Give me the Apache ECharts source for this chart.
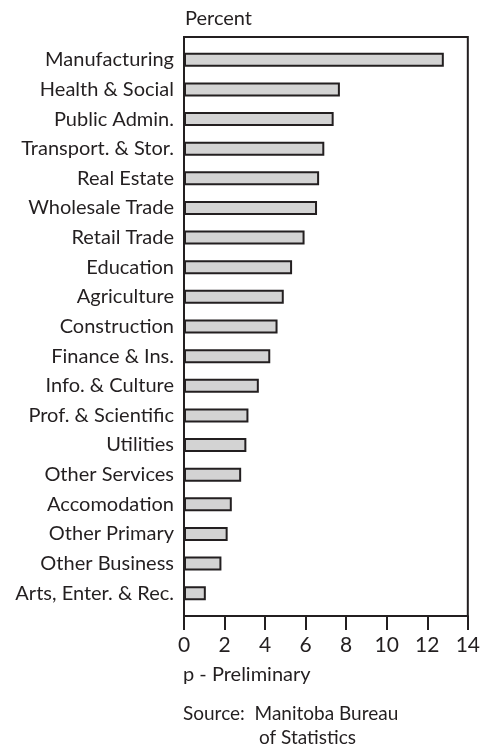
<!DOCTYPE html>
<html lang="en">
<head>
    <meta charset="UTF-8">
    <title>Industries - Percent</title>
    <script src="https://cdn.jsdelivr.net/npm/echarts@6.0.0/dist/echarts.min.js"></script>
    <style>
        html, body { margin: 0; padding: 0; background: #fff; }
        #main { width: 483px; height: 748px; }
    </style>
</head>
<body>
    <div id="main"></div>
    <script type="text/javascript">
        // categories, top to bottom
        const categories = ['Manufacturing', 'Health & Social', 'Public Admin.', 'Transport. & Stor.',
            'Real Estate', 'Wholesale Trade', 'Retail Trade', 'Education', 'Agriculture',
            'Construction', 'Finance & Ins.', 'Info. & Culture', 'Prof. & Scientific',
            'Utilities', 'Other Services', 'Accomodation', 'Other Primary', 'Other Business',
            'Arts, Enter. & Rec.'];
        // percent values
        const percents = [12.5, 7.5, 7.2, 6.75, 6.5, 6.4, 5.8, 5.2, 4.8, 4.5,
            4.15, 3.6, 3.1, 3.0, 2.75, 2.3, 2.1, 1.8, 1.05];
        const xTicks = { min: 0, max: 14, step: 2 };

        const ink = '#231f20';
        const font = 'Lato';

        var chart = echarts.init(document.getElementById('main'));
        var option = {
            animation: false,
            textStyle: { fontFamily: font, color: ink },
            grid: [
                // frame box with the x axis
                { left: 184, right: 8, top: 37, bottom: 132, show: true, borderColor: ink, borderWidth: 2 },
                // bars
                { left: 184, right: 8, top: 45, bottom: 140 }
            ],
            xAxis: [
                {
                    gridIndex: 0, type: 'value', min: xTicks.min, max: xTicks.max, interval: xTicks.step,
                    axisLine: { show: true, lineStyle: { color: ink, width: 2 } },
                    axisTick: { show: true, length: 14, lineStyle: { color: ink, width: 2 } },
                    splitLine: { show: false },
                    axisLabel: { fontSize: 21, color: ink, fontFamily: font, margin: 19 }
                },
                { gridIndex: 1, type: 'value', min: xTicks.min, max: xTicks.max, show: false }
            ],
            yAxis: [
                { gridIndex: 0, type: 'value', show: false },
                {
                    gridIndex: 1, type: 'category', inverse: true, data: categories,
                    axisLine: { show: false }, axisTick: { show: false },
                    axisLabel: { fontSize: 20, color: ink, fontFamily: font, margin: 10 }
                }
            ],
            graphic: [
                { type: 'text', left: 185, top: 9, style: { text: 'Percent', font: '20px Lato', fill: ink } },
                { type: 'text', left: 183, top: 665, style: { text: 'p - Preliminary', font: '20px Lato', fill: ink } },
                { type: 'text', left: 183, top: 704, style: { text: 'Source:  Manitoba Bureau', font: '19px Lato', fill: ink } },
                { type: 'text', left: 259, top: 728, style: { text: 'of Statistics', font: '19px Lato', fill: ink } }
            ],
            series: [
                {
                    type: 'bar', xAxisIndex: 1, yAxisIndex: 1,
                    data: percents, barWidth: 14,
                    itemStyle: { color: '#d3d3d3', borderColor: ink, borderWidth: 2 }
                }
            ]
        };
        chart.setOption(option);
    </script>
</body>
</html>
